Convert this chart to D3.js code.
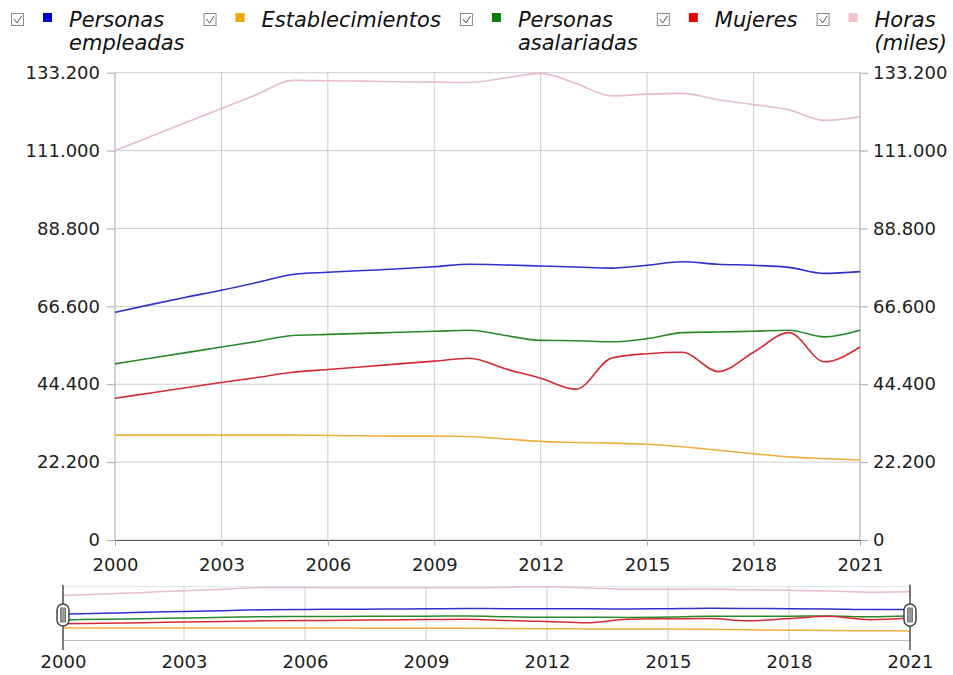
<!DOCTYPE html>
<html>
<head>
<meta charset="utf-8">
<script src="https://cdn.jsdelivr.net/npm/d3@7"></script>
<style>
  body { margin: 0; background: #fff; }
  svg { display: block; font-family: "DejaVu Sans", Verdana, sans-serif; }
</style>
</head>
<body>
<svg id="chart" width="953" height="675"></svg>
<script>
const years = d3.range(2000, 2022);
const personasEmpleadas = [64900, 67100, 69200, 71200, 73400, 75700, 76300, 76800, 77300, 77900, 78600,
  78400, 78100, 77800, 77500, 78300, 79300, 78600, 78300, 77700, 76000, 76500];
const establecimientos = [29900, 29900, 29900, 29900, 29900, 29900, 29800, 29700, 29600, 29600, 29500,
  28800, 28100, 27800, 27600, 27300, 26600, 25600, 24600, 23700, 23200, 22800];
const personasAsalariadas = [50200, 51800, 53400, 55000, 56600, 58300, 58600, 58900, 59200, 59500, 59800,
  58300, 56900, 56800, 56500, 57400, 59100, 59300, 59500, 59800, 57900, 59800];
const mujeres = [40400, 41900, 43400, 44900, 46300, 47800, 48600, 49400, 50200, 51000, 51800,
  48800, 46100, 43000, 51900, 53100, 53500, 48000, 53500, 59100, 50800, 55000];
const horasMiles = [111000, 115000, 119000, 123000, 127000, 131000, 130900, 130800, 130600, 130500, 130400,
  131700, 133000, 130100, 126600, 127100, 127300, 125500, 124100, 122600, 119600, 120600];

const legendLabels = [["Personas", "empleadas"], ["Establecimientos"], ["Personas", "asalariadas"], ["Mujeres"], ["Horas", "(miles)"]];
const yTicks = [0, 22200, 44400, 66600, 88800, 111000, 133200];
const xTicks = [2000, 2003, 2006, 2009, 2012, 2015, 2018, 2021];

const seriesValues = [personasEmpleadas, establecimientos, personasAsalariadas, mujeres, horasMiles];
const swatchColors = ["#0000cc", "#f0a800", "#0a800a", "#e60000", "#f8c0cc"];
const lineColors = ["#3030cc", "#f0b040", "#2a8a2a", "#d82a36", "#e6bec6"];

const es = d3.formatLocale({ decimal: ",", thousands: ".", grouping: [3], currency: ["", "€"] });
const fmt = es.format(",d");

const svg = d3.select("#chart");

// main plot
const plotLeft = 115, plotRight = 860, plotTop = 72.7, plotBottom = 540;
const x = d3.scaleLinear().domain([2000, 2021]).range([plotLeft, plotRight]);
const y = d3.scaleLinear().domain([0, 133200]).range([plotBottom, plotTop]);

const grid = svg.append("g");
grid.selectAll(".hg").data(yTicks).enter().append("line")
  .attr("x1", plotLeft).attr("x2", plotRight)
  .attr("y1", d => y(d)).attr("y2", d => y(d))
  .attr("stroke", "#cfcfcf");
grid.selectAll(".vg").data(xTicks).enter().append("line")
  .attr("y1", plotTop).attr("y2", plotBottom)
  .attr("x1", d => x(d)).attr("x2", d => x(d))
  .attr("stroke", "#cfcfcf");

const yLeft = svg.append("g").attr("transform", `translate(${plotLeft},0)`)
  .call(d3.axisLeft(y).tickValues(yTicks).tickFormat(fmt).tickSize(8).tickPadding(7));
const yRight = svg.append("g").attr("transform", `translate(${plotRight},0)`)
  .call(d3.axisRight(y).tickValues(yTicks).tickFormat(fmt).tickSize(8).tickPadding(5));
const xAxis = svg.append("g").attr("transform", `translate(0,${plotBottom})`)
  .call(d3.axisBottom(x).tickValues(xTicks).tickFormat(d3.format("d")).tickSize(6).tickPadding(12));

[yLeft, yRight, xAxis].forEach(g => {
  g.selectAll("path.domain").attr("stroke", "#bdbdbd");
  g.selectAll(".tick line").attr("stroke", "#aaa");
  g.selectAll("text").attr("fill", "#222").attr("font-size", 18)
    .attr("font-family", '"DejaVu Sans", Verdana, sans-serif');
});
xAxis.select("path.domain").attr("stroke", "#555");
yLeft.select("path.domain").attr("d", `M0,${plotTop}V${plotBottom}`);
yRight.select("path.domain").attr("d", `M0,${plotTop}V${plotBottom}`);

const line = d3.line()
  .x((d, i) => x(years[i]))
  .y(d => y(d))
  .curve(d3.curveMonotoneX);

svg.append("g").selectAll("path").data(seriesValues).enter().append("path")
  .attr("d", line)
  .attr("fill", "none")
  .attr("stroke", (d, i) => lineColors[i])
  .attr("stroke-width", 1.6);

// navigator
const nLeft = 63, nRight = 910, nTop = 586.7, nBottom = 640;
const xn = d3.scaleLinear().domain([2000, 2021]).range([nLeft, nRight]);
const yn = d3.scaleLinear().domain([0, 133200]).range([nBottom, nTop]);

const nav = svg.append("g");
nav.append("line").attr("x1", nLeft).attr("x2", nRight).attr("y1", nTop).attr("y2", nTop).attr("stroke", "#e2e2e2");
nav.selectAll(".nvg").data(xTicks).enter().append("line")
  .attr("x1", d => xn(d)).attr("x2", d => xn(d))
  .attr("y1", nTop).attr("y2", nBottom)
  .attr("stroke", "#cfcfcf");

const navLine = d3.line()
  .x((d, i) => xn(years[i]))
  .y(d => yn(d))
  .curve(d3.curveMonotoneX);

nav.append("g").selectAll("path").data(seriesValues).enter().append("path")
  .attr("d", navLine)
  .attr("fill", "none")
  .attr("stroke", (d, i) => lineColors[i])
  .attr("stroke-width", 1.5);

const navAxis = nav.append("g").attr("transform", `translate(0,${nBottom})`)
  .call(d3.axisBottom(xn).tickValues(xTicks).tickFormat(d3.format("d")).tickSize(0).tickPadding(15));
navAxis.select("path.domain").attr("stroke", "#bbb");
navAxis.selectAll("text").attr("fill", "#222").attr("font-size", 18)
  .attr("font-family", '"DejaVu Sans", Verdana, sans-serif');

// range handles at both ends
const handles = nav.selectAll(".handle").data([2000, 2021]).enter().append("g")
  .attr("transform", d => `translate(${xn(d)},0)`);
handles.append("line").attr("y1", nTop - 2).attr("y2", nBottom + 10).attr("stroke", "#555").attr("stroke-width", 1.5);
handles.append("rect").attr("x", -6).attr("y", 604).attr("width", 12).attr("height", 22).attr("rx", 6)
  .attr("fill", "#fff").attr("stroke", "#444").attr("stroke-width", 1.5);
handles.append("rect").attr("x", -2.5).attr("y", 608).attr("width", 5).attr("height", 14)
  .attr("fill", "#999").attr("stroke", "#666").attr("stroke-width", 0.8);

// legend
const legend = svg.append("g").attr("font-size", 21).attr("font-style", "italic").attr("fill", "#111");
let lx = 11;
legendLabels.forEach((lines, i) => {
  const g = legend.append("g").attr("transform", `translate(${lx},0)`);
  g.append("rect").attr("x", 0.5).attr("y", 13.5).attr("width", 12).attr("height", 12)
    .attr("fill", "#fff").attr("stroke", "#8a8a8a");
  g.append("path").attr("d", "M3,19 L6,23 L10.5,16").attr("fill", "none")
    .attr("stroke", "#555").attr("stroke-width", 1);
  g.append("rect").attr("x", 32).attr("y", 13).attr("width", 9).attr("height", 9)
    .attr("fill", swatchColors[i]);
  const t = g.append("text").attr("x", 58).attr("y", 27);
  lines.forEach((s, k) => {
    t.append("tspan").attr("x", 58).attr("dy", k === 0 ? 0 : 23).text(s);
  });
  lx += 58 + t.node().getBBox().width + 19;
});
</script>
</body>
</html>
